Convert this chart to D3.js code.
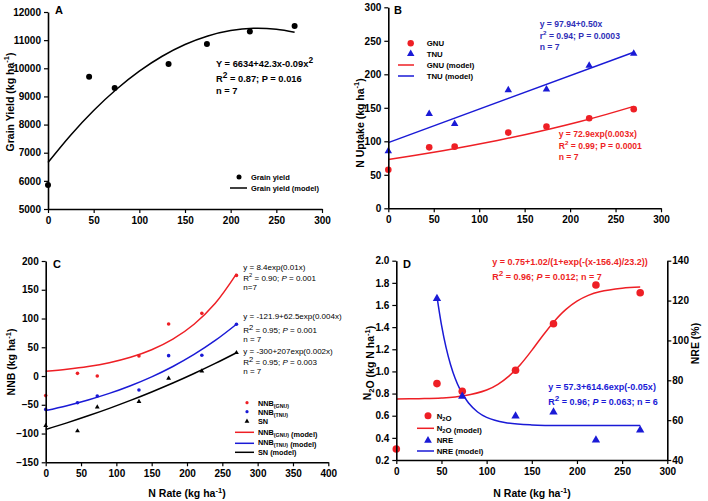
<!DOCTYPE html>
<html><head><meta charset="utf-8">
<script src="https://cdn.jsdelivr.net/npm/d3@7"></script>
<style>body{margin:0;background:#fff} svg{display:block}</style>
</head><body><svg id="c" width="708" height="501"></svg>
<script>
// ---------- data ----------
const nRate = [0,45,73,132,174,221,270];
const grainYield = [5850,9700,9300,10150,10860,11310,11500];
const yieldModelX = [0,25,50,75,100,125,150,175,200,225,250,270];
const yieldModelY = [6650,7631,8500,9255,9898,10428,10845,11150,11342,11421,11387,11279];

const gnu = [57.5,91,92,113,122,134.5,148];
const tnu = [85.5,141,126,176.5,177.5,213,231];
const gnuModelX = [0,30,60,90,120,150,180,210,240,270];
const gnuModelY = [73,79.2,85.9,93.3,101.2,109.8,119.1,129.2,140.2,152.1];
const tnuModelX = [0,270];
const tnuModelY = [98,233];

const nnbGnu = [-34,4.7,0,35,90.5,109,175];
const nnbTnu = [-58,-46.4,-34.8,-24.3,35.4,36,90];
const sn = [-86,-95.5,-54,-44.5,-4,8.7,40.5];
const cModelX = [0,30,60,90,120,150,180,210,240,270];
const nnbGnuModel = [8.4,11.8,16.5,23.2,32.6,45.8,64.2,90.1,126.5,177.6];
const nnbTnuModel = [-60,-51.5,-41.6,-30.2,-16.8,-1.4,16.6,37.5,61.8,90.0];
const snModel = [-93,-81.5,-69.2,-56.2,-42.4,-27.7,-12.2,4.4,21.9,40.5];

const n2o = [0.30,0.89,0.82,1.01,1.43,1.78,1.71];
const nreRate = [45,73,132,174,221,270];
const nre = [121,72,62,64,50,55];
const n2oModelX = [0,25,50,75,100,112.5,125,137.5,150,162.5,175,187.5,200,212.5,225,250,270];
const n2oModelY = [0.751,0.754,0.760,0.780,0.832,0.884,0.960,1.063,1.190,1.327,1.454,1.558,1.635,1.687,1.720,1.752,1.762];
const nreModelX = [45,50,55,60,65,70,80,90,100,120,150,200,270];
const nreModelY = [122.1,107.8,96.6,87.9,81.1,75.9,68.6,64.1,61.4,58.8,57.6,57.3,57.3];

const ticks50to300 = [0,50,100,150,200,250,300];
const ticks50to400 = [0,50,100,150,200,250,300,350,400];
const yieldTicks = [5000,6000,7000,8000,9000,10000,11000,12000];
const uptakeTicks = [0,50,100,150,200,250,300];
const nnbTicks = [-150,-100,-50,0,50,100,150,200];
const n2oTicks = [0.2,0.4,0.6,0.8,1.0,1.2,1.4,1.6,1.8,2.0];
const nreTicks = [40,60,80,100,120,140];

// ---------- style ----------
const FONT = "'Liberation Sans', Arial, Helvetica, sans-serif";
const RED = "#ee1f25", BLUE = "#1a1ad6", TBLUE = "#2f2fb8";
const svg = d3.select("#c");
svg.append("rect").attr("width",708).attr("height",501).attr("fill","#fff");

function styleAxis(g){
  g.attr("font-family",FONT).attr("font-size",10);
  g.select(".domain").attr("stroke","#000").attr("stroke-width",1.6);
  g.selectAll(".tick line").attr("stroke","#000").attr("stroke-width",1.2);
  g.selectAll(".tick text").attr("font-weight","bold").attr("fill","#000");
}
function rich(x, y, parts, o){
  const t = svg.append("text").attr("x",x).attr("y",y)
    .attr("font-family",FONT).attr("font-size",o.size)
    .attr("font-weight",o.weight||"bold").attr("fill",o.color||"#000")
    .attr("text-anchor",o.anchor||"start");
  if (o.rotate) t.attr("transform",`rotate(-90,${x},${y})`);
  let shift = 0;
  parts.forEach(p=>{
    const [s,m] = typeof p === "string" ? [p,""] : p;
    const sp = t.append("tspan").text(s);
    const target = m==="sup" ? -o.size*0.42 : (m==="sub" ? o.size*0.3 : 0);
    if (target !== shift) sp.attr("dy", target - shift);
    shift = target;
    if (m==="sup"||m==="sub") sp.attr("font-size", o.size*(o.scriptScale||0.72));
    if (m==="i") sp.attr("font-style","italic");
  });
  return t;
}
function line(xs, ys, xv, yv, color, w){
  svg.append("path").datum(xv.map((d,i)=>[d,yv[i]]))
    .attr("fill","none").attr("stroke",color).attr("stroke-width",w||1.5)
    .attr("d", d3.line().x(d=>xs(d[0])).y(d=>ys(d[1])).curve(d3.curveCatmullRom));
}
function dots(xs, ys, xv, yv, color, r){
  svg.append("g").selectAll("circle").data(xv.map((d,i)=>[d,yv[i]])).join("circle")
    .attr("cx",d=>xs(d[0])).attr("cy",d=>ys(d[1])).attr("r",r).attr("fill",color);
}
function tris(xs, ys, xv, yv, color, size){
  const sym = d3.symbol().type(d3.symbolTriangle).size(size);
  svg.append("g").selectAll("path").data(xv.map((d,i)=>[d,yv[i]])).join("path")
    .attr("transform",d=>`translate(${xs(d[0])},${ys(d[1])})`).attr("d",sym).attr("fill",color);
}
function legLine(x1,x2,y,color){
  svg.append("line").attr("x1",x1).attr("x2",x2).attr("y1",y).attr("y2",y).attr("stroke",color).attr("stroke-width",1.5);
}
function legTri(x,y,color,size){
  svg.append("path").attr("transform",`translate(${x},${y})`).attr("d",d3.symbol().type(d3.symbolTriangle).size(size)()).attr("fill",color);
}
function bottomAxis(xs, y, ticks){
  const g = svg.append("g").attr("transform",`translate(0,${y})`)
    .call(d3.axisBottom(xs).tickValues(ticks).tickFormat(d3.format("d")).tickSizeInner(4).tickSizeOuter(0).tickPadding(4));
  styleAxis(g);
}
function leftAxis(ys, x, ticks, fmt){
  const a = d3.axisLeft(ys).tickValues(ticks).tickFormat(fmt || d3.format("d")).tickSizeInner(4).tickSizeOuter(0).tickPadding(3);
  const g = svg.append("g").attr("transform",`translate(${x},0)`).call(a);
  styleAxis(g);
}

// ---------- Panel A ----------
{
  const xs = d3.scaleLinear().domain([0,300]).range([48,322]);
  const ys = d3.scaleLinear().domain([5000,12000]).range([209,12]);
  line(xs, ys, yieldModelX, yieldModelY, "#000", 1.5);
  dots(xs, ys, nRate, grainYield, "#000", 3);
  bottomAxis(xs, 209, ticks50to300);
  leftAxis(ys, 48, yieldTicks);
  rich(55, 14, ["A"], {size:11});
  rich(216, 67, ["Y = 6634+42.3x-0.09x", ["2","sup"]], {size:9.3, scriptScale:0.9});
  rich(216, 82, ["R", ["2","sup"], " = 0.87; P = 0.016"], {size:9.3, scriptScale:0.9});
  rich(216, 93.5, ["n = 7"], {size:9.3});
  svg.append("circle").attr("cx",239).attr("cy",177).attr("r",2.5).attr("fill","#000");
  rich(251, 180, ["Grain yield"], {size:7.5});
  legLine(230,247,188,"#000");
  rich(251, 191, ["Grain yield (model)"], {size:7.5});
  rich(13.5, 102, ["Grain Yield (kg ha", ["-1","sup"], ")"], {size:10.5, rotate:true, anchor:"middle"});
}

// ---------- Panel B ----------
{
  const xs = d3.scaleLinear().domain([0,300]).range([388.3,661]);
  const ys = d3.scaleLinear().domain([0,300]).range([208.3,7.3]);
  line(xs, ys, tnuModelX, tnuModelY, BLUE, 1.5);
  line(xs, ys, gnuModelX, gnuModelY, RED, 1.5);
  tris(xs, ys, nRate, tnu, BLUE, 24);
  dots(xs, ys, nRate, gnu, RED, 3.3);
  bottomAxis(xs, 208.3, ticks50to300);
  leftAxis(ys, 388.3, uptakeTicks);
  rich(394, 14, ["B"], {size:11});
  svg.append("circle").attr("cx",410.7).attr("cy",43.3).attr("r",3.2).attr("fill",RED);
  rich(426.7, 46.3, ["GNU"], {size:7.8});
  legTri(410.7, 53.8, BLUE, 24);
  rich(426.7, 56.5, ["TNU"], {size:7.8});
  legLine(398,414,65,RED);
  rich(426.7, 68, ["GNU (model)"], {size:7.8});
  legLine(398,414,76,BLUE);
  rich(426.7, 79, ["TNU (model)"], {size:7.8});
  rich(539.7, 27.3, ["y = 97.94+0.50x"], {size:8.6, color:TBLUE});
  rich(539.7, 38.5, ["r", ["2","sup"], " = 0.94; P = 0.0003"], {size:8.6, color:TBLUE});
  rich(539.7, 50, ["n = 7"], {size:8.6, color:TBLUE});
  rich(558.7, 137.3, ["y = 72.9exp(0.003x)"], {size:8.6, color:RED});
  rich(558.7, 149, ["R", ["2","sup"], " = 0.99; P = 0.0001"], {size:8.6, color:RED});
  rich(558.7, 160.3, ["n = 7"], {size:8.6, color:RED});
  rich(363.5, 123, ["N Uptake (kg ha", ["-1","sup"], ")"], {size:10.5, rotate:true, anchor:"middle"});
}

// ---------- Panel C ----------
{
  const xs = d3.scaleLinear().domain([0,400]).range([45.7,328.3]);
  const ys = d3.scaleLinear().domain([-150,200]).range([462.3,261]);
  line(xs, ys, cModelX, nnbGnuModel, RED, 1.5);
  line(xs, ys, cModelX, nnbTnuModel, BLUE, 1.5);
  line(xs, ys, cModelX, snModel, "#000", 1.5);
  dots(xs, ys, nRate, nnbGnu, RED, 1.8);
  dots(xs, ys, nRate, nnbTnu, BLUE, 1.8);
  tris(xs, ys, nRate, sn, "#000", 10);
  bottomAxis(xs, 462.3, ticks50to400);
  leftAxis(ys, 45.7, nnbTicks);
  rich(53, 268, ["C"], {size:11});
  const es = {size:8, weight:"normal"};
  rich(243.3, 270, ["y = 8.4exp(0.01x)"], es);
  rich(243.3, 280.7, ["R", ["2","sup"], " = 0.90; ", ["P","i"], " = 0.001"], es);
  rich(243.3, 289.5, ["n=7"], es);
  rich(243.3, 319.3, ["y = -121.9+62.5exp(0.004x)"], es);
  rich(243.3, 333.3, ["R", ["2","sup"], " = 0.95; ", ["P","i"], " = 0.001"], {size:8, weight:"normal", scriptScale:0.95});
  rich(243.3, 342.3, ["n = 7"], es);
  rich(243.3, 354, ["y = -300+207exp(0.002x)"], es);
  rich(243.3, 365, ["R", ["2","sup"], " = 0.95; ", ["P","i"], " = 0.003"], {size:8, weight:"normal", scriptScale:0.95});
  rich(243.3, 374, ["n = 7"], es);
  svg.append("circle").attr("cx",247).attr("cy",402.7).attr("r",1.6).attr("fill",RED);
  rich(258, 405.5, ["NNB", ["(GNU)","sub"]], {size:7.3});
  svg.append("circle").attr("cx",247).attr("cy",411.7).attr("r",1.6).attr("fill",BLUE);
  rich(258, 414.5, ["NNB", ["(TNU)","sub"]], {size:7.3});
  legTri(247, 421.3, "#000", 10);
  rich(258, 424, ["SN"], {size:7.3});
  legLine(235,254,432.3,RED);
  rich(258, 434.5, ["NNB", ["(GNU)","sub"], ["",""], " (model)"], {size:7.3});
  legLine(235,254,443.3,BLUE);
  rich(258, 445, ["NNB", ["(TNU)","sub"], ["",""], " (model)"], {size:7.3});
  legLine(235,254,452.3,"#000");
  rich(258, 454.5, ["SN (model)"], {size:7.3});
  rich(15, 362, ["NNB (kg ha", ["-1","sup"], ")"], {size:10.5, rotate:true, anchor:"middle"});
  rich(187, 497, ["N Rate (kg ha", ["-1","sup"], ")"], {size:10.5, anchor:"middle"});
}

// ---------- Panel D ----------
{
  const xs = d3.scaleLinear().domain([0,300]).range([396.3,667.3]);
  const yl = d3.scaleLinear().domain([0.2,2.0]).range([460,260.7]);
  const yr = d3.scaleLinear().domain([40,140]).range([460,260.7]);
  line(xs, yl, n2oModelX, n2oModelY, RED, 1.5);
  line(xs, yr, nreModelX, nreModelY, BLUE, 1.5);
  dots(xs, yl, nRate, n2o, RED, 3.8);
  tris(xs, yr, nreRate, nre, BLUE, 30);
  bottomAxis(xs, 460, ticks50to300);
  leftAxis(yl, 396.3, n2oTicks, d3.format(".1f"));
  const gr = svg.append("g").attr("transform","translate(667.3,0)")
    .call(d3.axisRight(yr).tickValues(nreTicks).tickFormat(d3.format("d")).tickSizeInner(4).tickSizeOuter(0).tickPadding(1));
  styleAxis(gr);
  rich(403, 268, ["D"], {size:11});
  rich(492.3, 265, ["y = 0.75+1.02/(1+exp(-(x-156.4)/23.2))"], {size:9, color:RED});
  rich(492.3, 279.5, ["R", ["2","sup"], " = 0.96; ", ["P","i"], " = 0.012; n = 7"], {size:9, color:RED, scriptScale:0.9});
  rich(548.3, 390, ["y = 57.3+614.6exp(-0.05x)"], {size:9, color:BLUE});
  rich(548.3, 405, ["R", ["2","sup"], " = 0.96; ", ["P","i"], " = 0.063; n = 6"], {size:9, color:BLUE, scriptScale:0.9});
  svg.append("circle").attr("cx",428).attr("cy",415.7).attr("r",3.5).attr("fill",RED);
  rich(436.7, 418.5, ["N", ["2","sub"], ["",""], "O"], {size:7.8});
  legLine(417,434,428.3,RED);
  rich(436.7, 431, ["N", ["2","sub"], ["",""], "O (model)"], {size:7.8});
  legTri(428, 440.5, BLUE, 26);
  rich(436.7, 443, ["NRE"], {size:7.8});
  legLine(417,434,451,BLUE);
  rich(436.7, 454, ["NRE (model)"], {size:7.8});
  rich(371, 363, ["N", ["2","sub"], ["",""], "O (kg N ha", ["-1","sup"], ")"], {size:10.5, rotate:true, anchor:"middle"});
  rich(698.5, 343.5, ["NRE (%)"], {size:10.5, rotate:true, anchor:"middle"});
  rich(532, 497, ["N Rate (kg ha", ["-1","sup"], ")"], {size:10.5, anchor:"middle"});
}
</script></body></html>
